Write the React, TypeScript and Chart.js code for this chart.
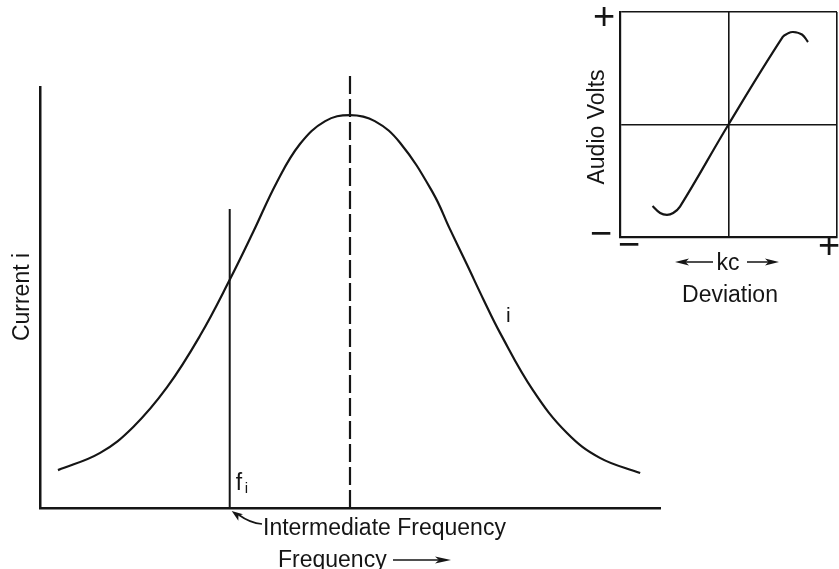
import React, { useEffect, useRef } from "react";
import { Chart, registerables } from "chart.js";

Chart.register(...registerables);

// ---- Main resonance curve (arbitrary frequency units 0..100, current 0..1) ----
const frequency = [2.9, 9.7, 15.0, 20.5, 25.8, 30.6, 34.4, 38.2, 41.9, 46.0, 50.0, 54.0, 58.1, 63.4, 66.1, 68.9, 71.5, 74.2, 79.5, 85.0, 90.3, 96.8];
const current = [0.09, 0.131, 0.192, 0.287, 0.409, 0.542, 0.656, 0.774, 0.864, 0.919, 0.933, 0.919, 0.867, 0.748, 0.663, 0.577, 0.496, 0.416, 0.28, 0.178, 0.119, 0.083];

// vertical markers: intermediate frequency f_i and the centre (resonant) frequency
const intermediateFrequency = 30.6;
const intermediateTop = 0.71;
const centreFrequency = 50;
const centreTop = 1.03;

// ---- Inset discriminator curve ----
const deviation = [-0.7, -0.63, -0.567, -0.51, -0.447, 0, 0.5, 0.548, 0.595, 0.677, 0.733];
const audioVolts = [-0.724, -0.787, -0.804, -0.787, -0.73, 0, 0.778, 0.81, 0.822, 0.8, 0.733];

const INK = "#151515";
const FONT = '"Liberation Sans", Arial, sans-serif';

function arrowHead(ctx: CanvasRenderingContext2D, tx: number, ty: number, angle: number, len: number, half: number) {
  ctx.save();
  ctx.translate(tx, ty);
  ctx.rotate(angle);
  ctx.beginPath();
  ctx.moveTo(0, 0);
  ctx.lineTo(-len, -half);
  ctx.lineTo(-len * 0.75, 0);
  ctx.lineTo(-len, half);
  ctx.closePath();
  ctx.fill();
  ctx.restore();
}

const mainLabels = {
  id: "mainLabels",
  afterDraw(chart: any) {
    const ctx: CanvasRenderingContext2D = chart.ctx;
    const xs = chart.scales.x;
    const ys = chart.scales.y;
    const fiPx = xs.getPixelForValue(intermediateFrequency);
    const baseY = ys.getPixelForValue(0);
    ctx.save();
    ctx.fillStyle = INK;
    ctx.strokeStyle = INK;
    ctx.textBaseline = "alphabetic";

    // y axis title
    ctx.save();
    ctx.translate(29, 297);
    ctx.rotate(-Math.PI / 2);
    ctx.font = `23px ${FONT}`;
    ctx.textAlign = "center";
    ctx.fillText("Current i", 0, 0);
    ctx.restore();

    // f_i label
    ctx.textAlign = "left";
    ctx.font = `23px ${FONT}`;
    ctx.fillText("f", fiPx + 6, 490);
    ctx.font = `15px ${FONT}`;
    ctx.fillText("i", fiPx + 15, 493);

    // curve label i
    ctx.font = `21px ${FONT}`;
    ctx.fillText("i", 506, 322);

    // Intermediate Frequency with arrow
    ctx.font = `23px ${FONT}`;
    ctx.fillText("Intermediate Frequency", 263, 535);
    ctx.lineWidth = 1.6;
    ctx.beginPath();
    ctx.moveTo(262, 524);
    ctx.quadraticCurveTo(250, 523, 239, 515);
    ctx.stroke();
    arrowHead(ctx, fiPx + 2, baseY + 3, Math.atan2(-10, -14), 11, 4);

    // Frequency axis title with arrow
    ctx.font = `23px ${FONT}`;
    ctx.fillText("Frequency", 278, 567);
    ctx.lineWidth = 1.6;
    ctx.beginPath();
    ctx.moveTo(393, 560);
    ctx.lineTo(440, 560);
    ctx.stroke();
    arrowHead(ctx, 451, 560, 0, 16, 3.5);
    ctx.restore();
  },
};

const insetLabels = {
  id: "insetLabels",
  afterDraw(chart: any) {
    const ctx: CanvasRenderingContext2D = chart.ctx;
    ctx.save();
    ctx.fillStyle = INK;
    ctx.strokeStyle = INK;

    // y title
    ctx.save();
    ctx.translate(24, 127);
    ctx.rotate(-Math.PI / 2);
    ctx.font = `23px ${FONT}`;
    ctx.textAlign = "center";
    ctx.textBaseline = "alphabetic";
    ctx.fillText("Audio Volts", 0, 0);
    ctx.restore();

    // + / - marks
    ctx.font = `38px ${FONT}`;
    ctx.textAlign = "center";
    ctx.textBaseline = "middle";
    ctx.fillText("+", 24, 19);
    ctx.fillText("\u2212", 21, 236);
    ctx.fillText("\u2212", 49, 247);
    ctx.fillText("+", 249, 248);

    // kc with arrows
    ctx.font = `23px ${FONT}`;
    ctx.textBaseline = "alphabetic";
    ctx.fillText("kc", 148, 270);
    ctx.lineWidth = 1.5;
    ctx.beginPath();
    ctx.moveTo(133, 262);
    ctx.lineTo(103, 262);
    ctx.moveTo(167, 262);
    ctx.lineTo(190, 262);
    ctx.stroke();
    arrowHead(ctx, 95, 262, Math.PI, 14, 3.5);
    arrowHead(ctx, 199, 262, 0, 14, 3.5);

    ctx.fillText("Deviation", 150, 302);
    ctx.restore();
  },
};

export default function App() {
  const mainRef = useRef<HTMLCanvasElement>(null);
  const insetRef = useRef<HTMLCanvasElement>(null);

  useEffect(() => {
    const hiddenTicks = { display: false };
    const main = new Chart(mainRef.current as HTMLCanvasElement, {
      type: "line",
      data: {
        datasets: [
          {
            data: frequency.map((f, i) => ({ x: f, y: current[i] })),
            borderColor: INK,
            borderWidth: 2.2,
            pointRadius: 0,
            tension: 0.4,
            fill: false,
          },
          {
            data: [
              { x: intermediateFrequency, y: 0 },
              { x: intermediateFrequency, y: intermediateTop },
            ],
            borderColor: INK,
            borderWidth: 2,
            pointRadius: 0,
          },
          {
            data: [
              { x: centreFrequency, y: 0 },
              { x: centreFrequency, y: centreTop },
            ],
            borderColor: INK,
            borderWidth: 2.2,
            borderDash: [18, 5],
            pointRadius: 0,
            clip: false,
          },
        ],
      } as any,
      options: {
        responsive: false,
        animation: false,
        events: [],
        layout: { padding: { left: 40, top: 87, right: 179, bottom: 61 } },
        plugins: { legend: { display: false }, tooltip: { enabled: false } },
        scales: {
          x: {
            type: "linear",
            min: 0,
            max: 100,
            ticks: hiddenTicks,
            grid: { display: false, drawTicks: false },
            border: { display: true, color: INK, width: 2.5 },
          },
          y: {
            type: "linear",
            min: 0,
            max: 1,
            ticks: hiddenTicks,
            grid: { display: false, drawTicks: false },
            border: { display: true, color: INK, width: 2.5 },
          },
        },
      } as any,
      plugins: [mainLabels],
    });

    const inset = new Chart(insetRef.current as HTMLCanvasElement, {
      type: "line",
      data: {
        datasets: [
          {
            data: deviation.map((d, i) => ({ x: d, y: audioVolts[i] })),
            borderColor: INK,
            borderWidth: 2.2,
            pointRadius: 0,
            tension: 0.4,
            fill: false,
          },
        ],
      } as any,
      options: {
        responsive: false,
        animation: false,
        events: [],
        layout: { padding: { left: 40, top: 12, right: 3, bottom: 83 } },
        plugins: { legend: { display: false }, tooltip: { enabled: false } },
        scales: {
          x: {
            type: "linear",
            min: -1,
            max: 1,
            ticks: { display: false, stepSize: 1 },
            grid: { display: true, drawTicks: false, color: INK, lineWidth: 1.6 },
            border: { display: true, color: INK, width: 2.2 },
          },
          y: {
            type: "linear",
            min: -1,
            max: 1,
            ticks: { display: false, stepSize: 1 },
            grid: { display: true, drawTicks: false, color: INK, lineWidth: 1.6 },
            border: { display: true, color: INK, width: 2.2 },
          },
        },
      } as any,
      plugins: [insetLabels],
    });

    return () => {
      main.destroy();
      inset.destroy();
    };
  }, []);

  return (
    <div
      style={{
        position: "absolute",
        left: 0,
        top: 0,
        width: 839,
        height: 569,
        overflow: "hidden",
        background: "#fff",
      }}
    >
      <canvas
        ref={mainRef}
        width={839}
        height={569}
        style={{ position: "absolute", left: 0, top: 0, width: 839, height: 569 }}
      />
      <canvas
        ref={insetRef}
        width={260}
        height={320}
        style={{ position: "absolute", left: 580, top: 0, width: 260, height: 320 }}
      />
    </div>
  );
}
